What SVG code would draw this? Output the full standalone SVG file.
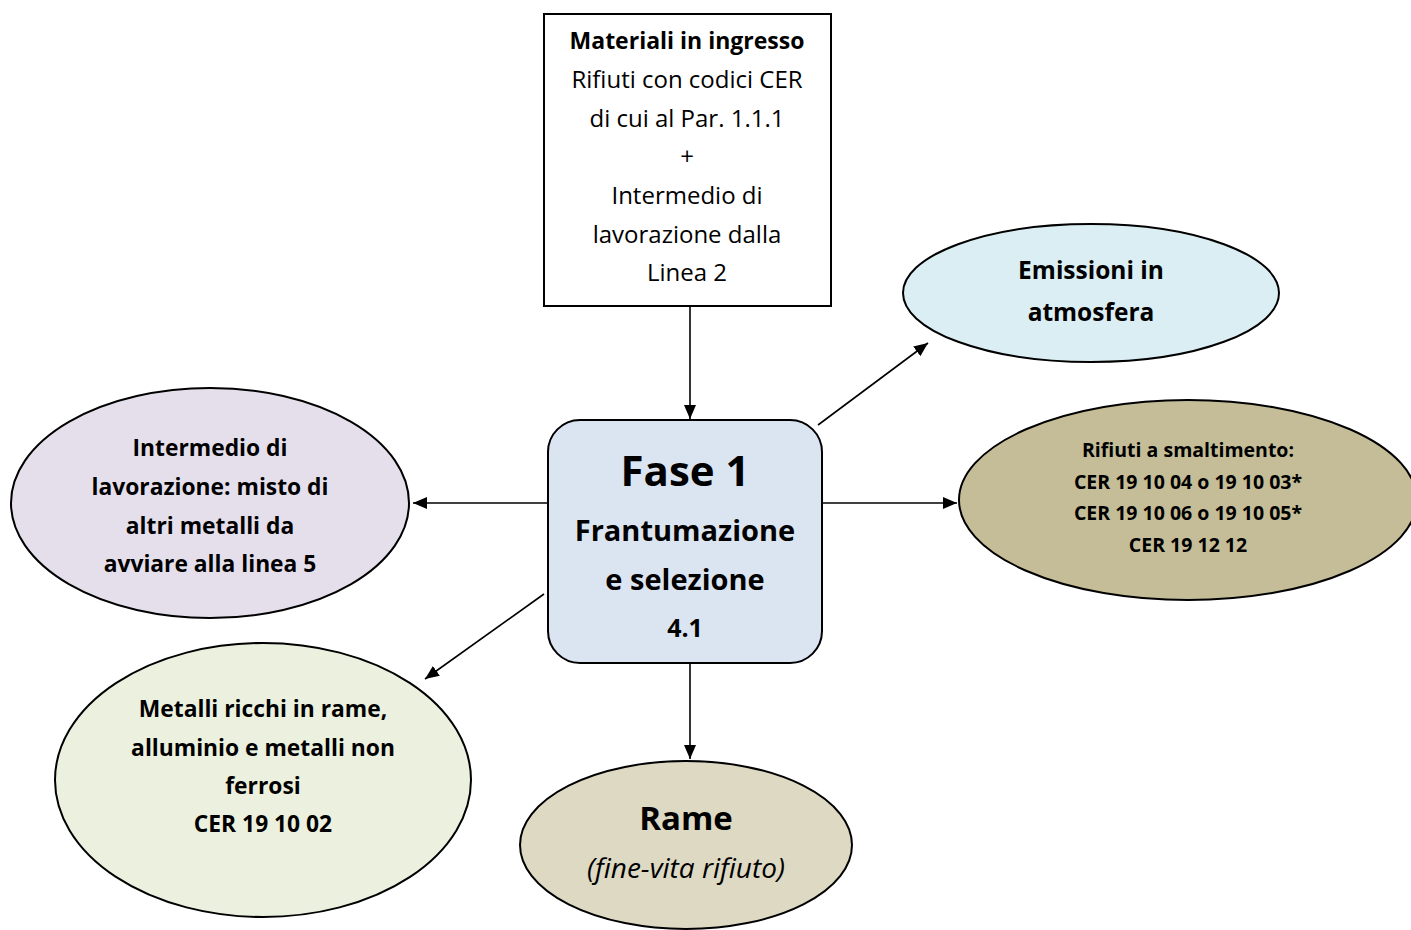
<svg xmlns="http://www.w3.org/2000/svg" width="1411" height="930" viewBox="0 0 1411 930">
<defs>
<style>
text{font-family:"Open Sans","Liberation Sans",sans-serif;fill:#000;text-anchor:middle;font-variant-ligatures:none}
.b{font-weight:bold}
.shape{stroke:#000;stroke-width:2}
.conn{stroke:#000;stroke-width:1.6;fill:none}
</style>
<marker id="ah2" viewBox="0 0 10 10" refX="10" refY="5" markerWidth="14" markerHeight="12" markerUnits="userSpaceOnUse" orient="auto" preserveAspectRatio="none">
<path d="M0,0 L10,5 L0,10 z" fill="#000"/>
</marker>
</defs>
<rect width="1411" height="930" fill="#fff"/>
<g id="connectors">
<line class="conn" x1="690" y1="306" x2="690" y2="419" marker-end="url(#ah2)"/>
<line class="conn" x1="818" y1="425" x2="928" y2="343" marker-end="url(#ah2)"/>
<line class="conn" x1="822" y1="503" x2="957" y2="503" marker-end="url(#ah2)"/>
<line class="conn" x1="548" y1="503" x2="413" y2="503" marker-end="url(#ah2)"/>
<line class="conn" x1="544" y1="594" x2="425" y2="679" marker-end="url(#ah2)"/>
<line class="conn" x1="690" y1="663" x2="690" y2="759" marker-end="url(#ah2)"/>
</g>
<g id="input">
<rect class="shape" x="544" y="14" width="287" height="292" fill="#fff" stroke-width="1.5"/>
<text class="b" x="687" y="49" font-size="23">Materiali in ingresso</text>
<text x="687" y="88" font-size="24">Rifiuti con codici CER</text>
<text x="687" y="127" font-size="24">di cui al Par. 1.1.1</text>
<text x="687" y="165" font-size="24">+</text>
<text x="687" y="204" font-size="24">Intermedio di</text>
<text x="687" y="243" font-size="24">lavorazione dalla</text>
<text x="687" y="281" font-size="24">Linea 2</text>
</g>
<g id="fase1">
<rect class="shape" x="548" y="420" width="274" height="243" rx="32" fill="#dbe5f1"/>
<text class="b" x="685" y="486" font-size="42">Fase 1</text>
<text class="b" x="685" y="541" font-size="29">Frantumazione</text>
<text class="b" x="685" y="590" font-size="29">e selezione</text>
<text class="b" x="685" y="637" font-size="25">4.1</text>
</g>
<g id="emissioni">
<ellipse class="shape" cx="1091" cy="293" rx="188" ry="69" fill="#dbeef3"/>
<text class="b" x="1091" y="279" font-size="24.5">Emissioni in</text>
<text class="b" x="1091" y="321" font-size="24.5">atmosfera</text>
</g>
<g id="rifiuti">
<ellipse class="shape" cx="1188" cy="500" rx="229" ry="100" fill="#c4bd97"/>
<text class="b" x="1188" y="457" font-size="19.5">Rifiuti a smaltimento:</text>
<text class="b" x="1188" y="489" font-size="19.5">CER 19 10 04 o 19 10 03*</text>
<text class="b" x="1188" y="520" font-size="19.5">CER 19 10 06 o 19 10 05*</text>
<text class="b" x="1188" y="552" font-size="19.5">CER 19 12 12</text>
</g>
<g id="intermedio">
<ellipse class="shape" cx="210" cy="503" rx="199" ry="115" fill="#e5dfec"/>
<text class="b" x="210" y="456" font-size="22.8">Intermedio di</text>
<text class="b" x="210" y="495" font-size="22.8">lavorazione: misto di</text>
<text class="b" x="210" y="534" font-size="22.8">altri metalli da</text>
<text class="b" x="210" y="572" font-size="22.8">avviare alla linea 5</text>
</g>
<g id="metalli">
<ellipse class="shape" cx="263" cy="780" rx="208" ry="137" fill="#ebf1de"/>
<text class="b" x="263" y="717" font-size="22.8">Metalli ricchi in rame,</text>
<text class="b" x="263" y="756" font-size="22.8">alluminio e metalli non</text>
<text class="b" x="263" y="794" font-size="22.8">ferrosi</text>
<text class="b" x="263" y="832" font-size="22.8">CER 19 10 02</text>
</g>
<g id="rame">
<ellipse class="shape" cx="686" cy="845" rx="166" ry="84" fill="#ddd9c3"/>
<text class="b" x="686" y="830" font-size="33">Rame</text>
<text x="686" y="878" font-size="28" font-style="italic">(fine-vita rifiuto)</text>
</g>
</svg>
